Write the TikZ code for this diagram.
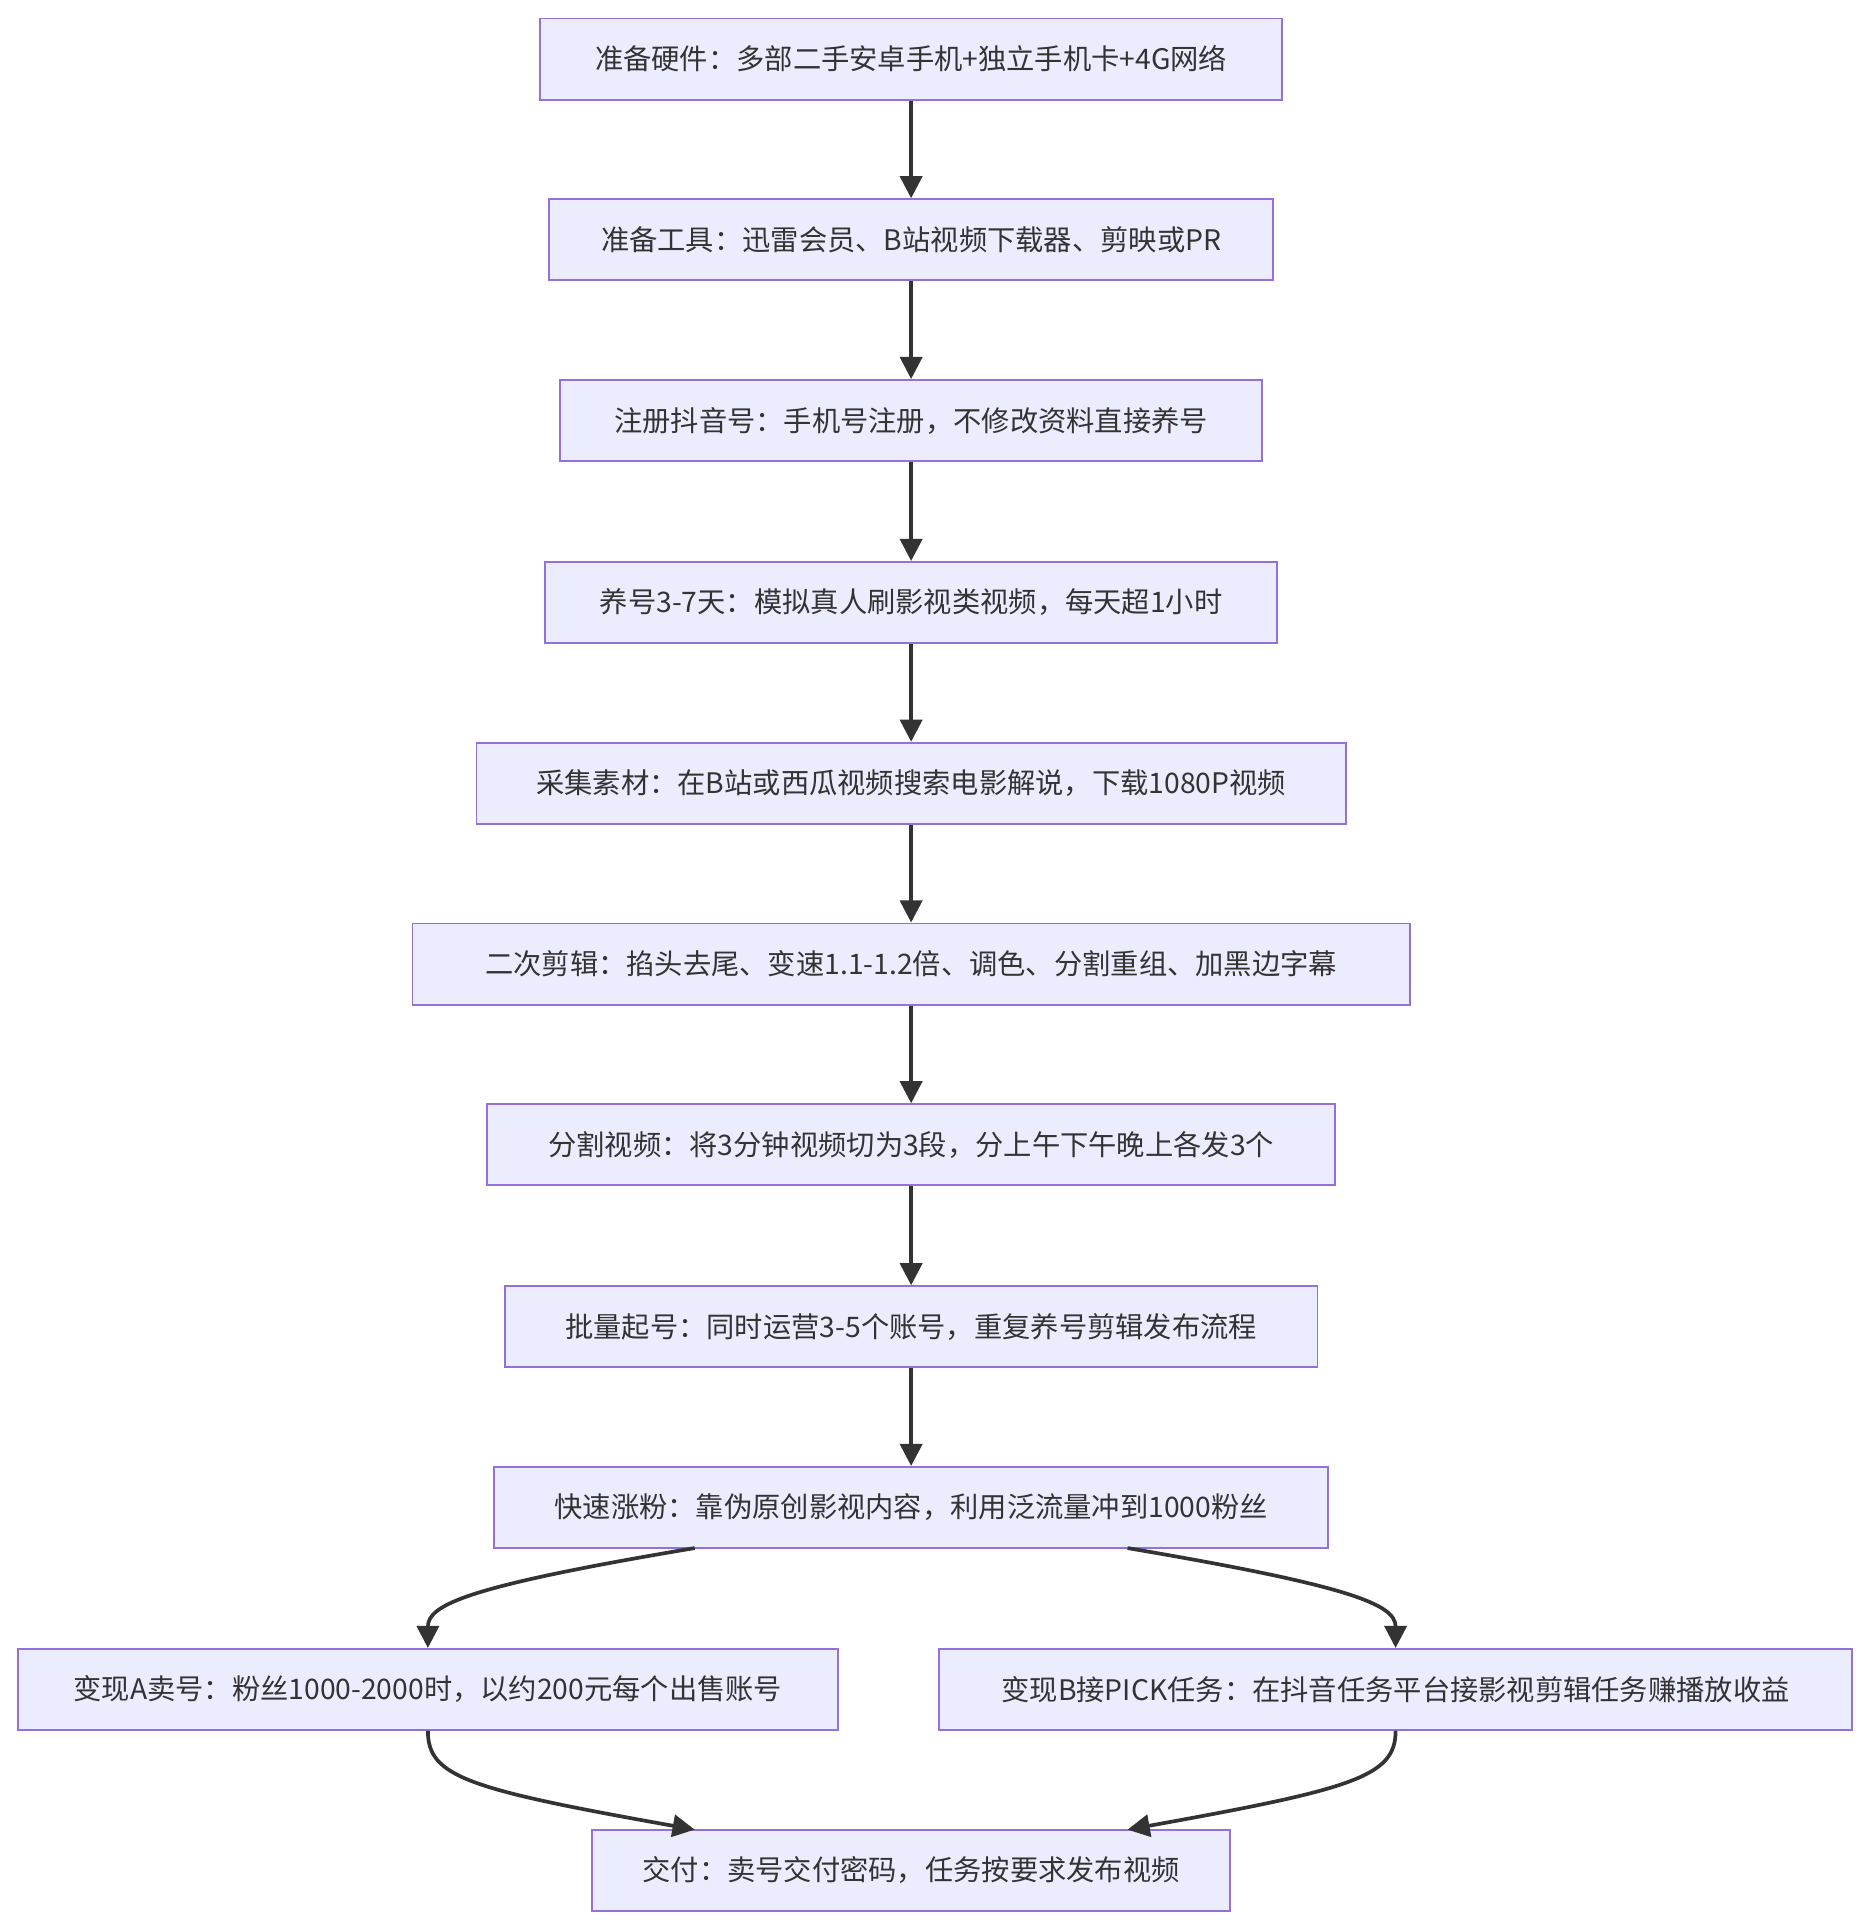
\documentclass[tikz,border=0pt]{standalone}
\usepackage{fontspec}
\setmainfont{Noto Sans CJK SC}
\usetikzlibrary{arrows.meta}
\definecolor{boxfill}{HTML}{ECECFF}
\definecolor{boxline}{HTML}{9370DB}
\definecolor{arr}{HTML}{333333}
\begin{document}
\begin{tikzpicture}[x=1pt,y=-1pt,
 box/.style={draw=boxline,fill=boxfill,line width=1.5pt,minimum height=66pt,inner sep=0pt,font=\fontsize{23}{28}\selectfont,text=arr},
 conn/.style={draw=arr,line width=3pt,-{Triangle[length=18pt,width=18pt]}}]
\useasboundingbox (0,0) rectangle (1520,1568);
\node[box,minimum width=603pt] (n1) at (741,48) {准备硬件：多部二手安卓手机+独立手机卡+4G网络};
\node[box,minimum width=589pt] (n2) at (741,195) {准备工具：迅雷会员、B站视频下载器、剪映或PR};
\node[box,minimum width=571pt] (n3) at (741,342) {注册抖音号：手机号注册，不修改资料直接养号};
\node[box,minimum width=595pt] (n4) at (741,490) {养号3-7天：模拟真人刷影视类视频，每天超1小时};
\node[box,minimum width=707pt] (n5) at (741,637) {采集素材：在B站或西瓜视频搜索电影解说，下载1080P视频};
\node[box,minimum width=811pt] (n6) at (741,784) {二次剪辑：掐头去尾、变速1.1-1.2倍、调色、分割重组、加黑边字幕};
\node[box,minimum width=690pt] (n7) at (741,931) {分割视频：将3分钟视频切为3段，分上午下午晚上各发3个};
\node[box,minimum width=661pt] (n8) at (741,1079) {批量起号：同时运营3-5个账号，重复养号剪辑发布流程};
\node[box,minimum width=678pt] (n9) at (741,1226) {快速涨粉：靠伪原创影视内容，利用泛流量冲到1000粉丝};
\node[box,minimum width=667pt] (n10) at (348,1374) {变现A卖号：粉丝1000-2000时，以约200元每个出售账号};
\node[box,minimum width=742pt] (n11) at (1135,1374) {变现B接PICK任务：在抖音任务平台接影视剪辑任务赚播放收益};
\node[box,minimum width=519pt] (n12) at (741,1521) {交付：卖号交付密码，任务按要求发布视频};
\foreach \a/\b in {n1/n2,n2/n3,n3/n4,n4/n5,n5/n6,n6/n7,n7/n8,n8/n9}
  \draw[conn] (\a.south) -- (\b.north);
\coordinate (s9l) at (565,1259);
\coordinate (s9r) at (917,1259);
\coordinate (t12l) at (565,1488);
\coordinate (t12r) at (917,1488);
\draw[conn] (s9l) .. controls (380,1290) and (348,1305) .. (n10.north);
\draw[conn] (s9r) .. controls (1100,1290) and (1135,1305) .. (n11.north);
\draw[conn] (n10.south) .. controls (348,1445) and (380,1455) .. (t12l);
\draw[conn] (n11.south) .. controls (1135,1445) and (1100,1455) .. (t12r);
\end{tikzpicture}
\end{document}
